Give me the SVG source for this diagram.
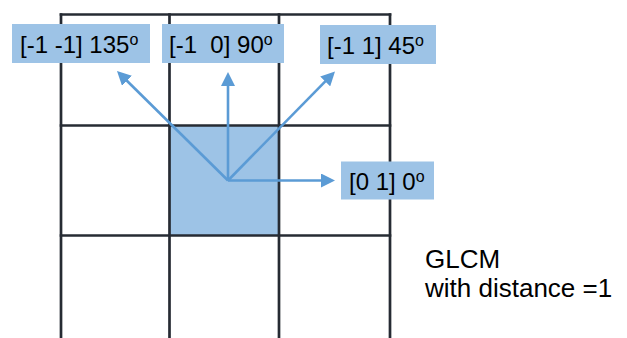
<svg xmlns="http://www.w3.org/2000/svg" width="627" height="338" viewBox="0 0 627 338">
  <style>
    .grid { stroke: #262b33; stroke-width: 2.7; fill: none; }
    .cell { fill: #9dc3e6; }
    .arrow { stroke: #5b9bd5; stroke-width: 2.6; fill: none; marker-end: url(#head); }
    .tag { fill: #9dc3e6; }
    .lbl { font-family: "Liberation Sans", Arial, sans-serif; font-size: 24px; fill: #000; white-space: pre; }
    .sup { font-size: 16px; }
    .note { font-family: "Liberation Sans", Arial, sans-serif; font-size: 26px; fill: #000; }
  </style>
  <defs>
    <marker id="head" markerUnits="userSpaceOnUse" markerWidth="14" markerHeight="14" refX="4" refY="7" orient="auto">
      <path d="M0,0 L14,7 L0,14 z" fill="#5b9bd5"/>
    </marker>
  </defs>

  <!-- highlighted centre pixel -->
  <g id="center-cell">
    <rect class="cell" x="169.5" y="125.5" width="109.5" height="110"/>
  </g>

  <!-- 3x3 pixel neighbourhood -->
  <g id="grid">
    <line class="grid" x1="59.7" y1="14.5" x2="391.3" y2="14.5"/>
    <line class="grid" x1="59.7" y1="125.5" x2="391.3" y2="125.5"/>
    <line class="grid" x1="59.7" y1="235.5" x2="391.3" y2="235.5"/>
    <line class="grid" x1="61" y1="13.2" x2="61" y2="338"/>
    <line class="grid" x1="169.5" y1="13.2" x2="169.5" y2="338"/>
    <line class="grid" x1="279" y1="13.2" x2="279" y2="338"/>
    <line class="grid" x1="390" y1="13.2" x2="390" y2="338"/>
  </g>

  <!-- direction vectors from the centre pixel -->
  <g id="connectors">
    <line class="arrow" x1="228" y1="180.5" x2="124.1" y2="78"/>
    <line class="arrow" x1="228" y1="180.5" x2="228" y2="82"/>
    <line class="arrow" x1="228" y1="180.5" x2="328" y2="78.6"/>
    <line class="arrow" x1="228" y1="180.5" x2="325" y2="180.5"/>
  </g>

  <g id="label-135">
    <rect class="tag" x="12" y="24" width="138" height="39"/>
    <text class="lbl" x="20" y="53">[-1 -1] 135<tspan class="sup" dy="-8">o</tspan></text>
  </g>
  <g id="label-90">
    <rect class="tag" x="162" y="24" width="122" height="39"/>
    <text class="lbl" x="169" y="53">[-1  0] 90<tspan class="sup" dy="-8">o</tspan></text>
  </g>
  <g id="label-45">
    <rect class="tag" x="320" y="25" width="116" height="39"/>
    <text class="lbl" x="327" y="54">[-1 1] 45<tspan class="sup" dy="-8">o</tspan></text>
  </g>
  <g id="label-0">
    <rect class="tag" x="341" y="161.5" width="93" height="38"/>
    <text class="lbl" x="349" y="190">[0 1] 0<tspan class="sup" dy="-8">o</tspan></text>
  </g>

  <g id="caption">
    <text class="note" x="425" y="268">GLCM</text>
    <text class="note" x="425" y="297">with distance =1</text>
  </g>
</svg>
